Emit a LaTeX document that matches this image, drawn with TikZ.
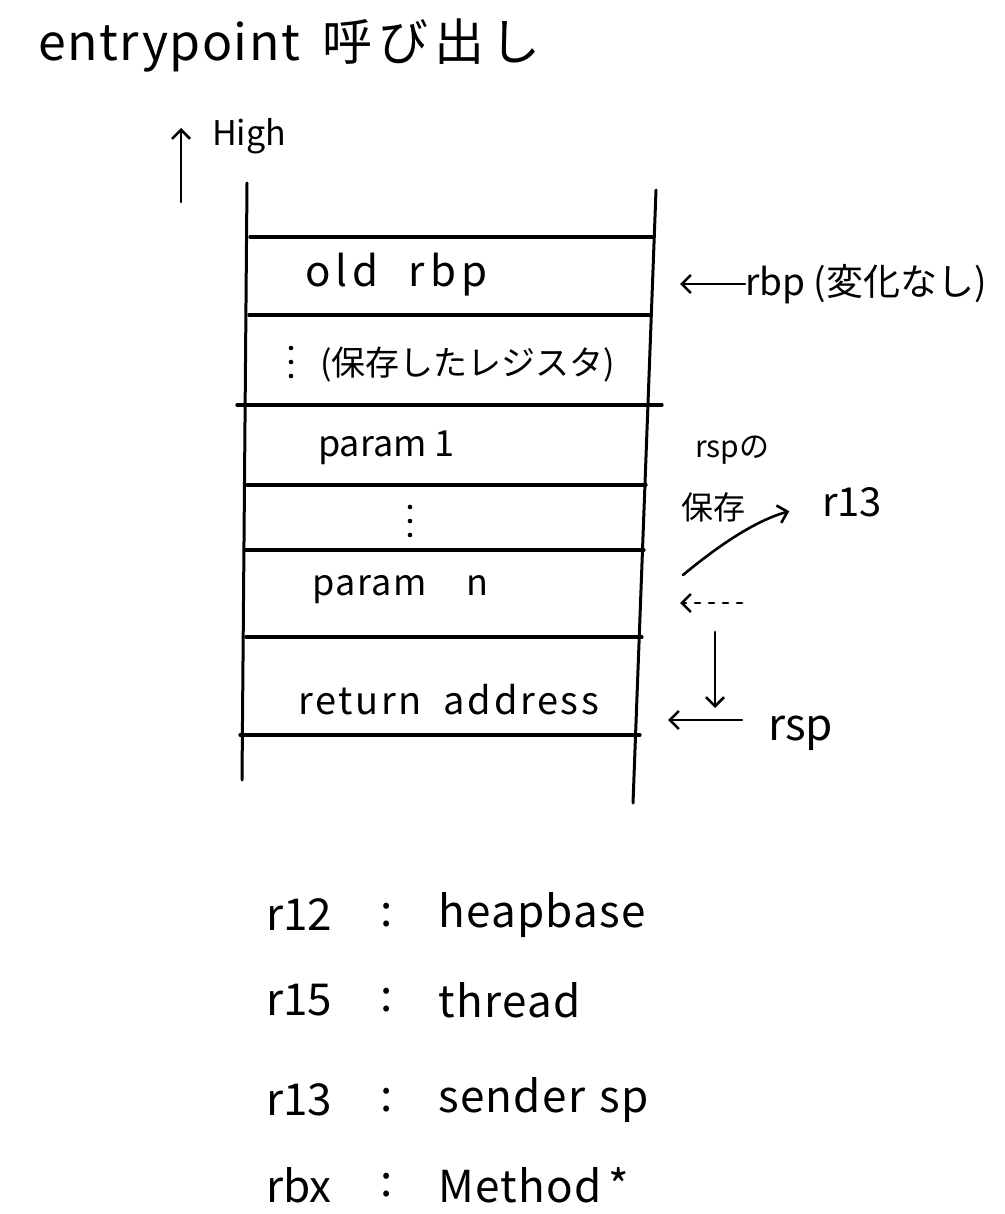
\documentclass[tikz,border=0pt]{standalone}
\usepackage{fontspec}
\setmainfont{Noto Sans CJK JP}
\usetikzlibrary{arrows.meta,positioning,calc}

\begin{document}
\begin{tikzpicture}[x=1pt,y=-1pt,
  font=\fontsize{34}{38}\selectfont,>={Straight Barb[length=9pt,width=18pt]},
  ink/.style={line width=2.6pt,line cap=round},
  wall/.style={ink,line width=3pt},
  slot/.style={ink,line width=3.2pt},
  dotcol/.style={ink,line width=4.6pt,dash pattern=on 0pt off 14pt},
  lbl/.style={inner sep=0pt,anchor=west},
  big/.style={lbl,font=\fontsize{44}{48}\selectfont},
  small/.style={lbl,font=\fontsize{30}{34}\selectfont}]
\useasboundingbox (0,0) rectangle (1004,1214);

% title and direction
\node[big,font=\fontsize{50}{54}\selectfont\addfontfeatures{LetterSpace=3}] (title) at (38,45) {entrypoint\hspace{22pt}呼\hspace{6pt}び\hspace{6pt}出\hspace{6pt}し};
\node[small,font=\fontsize{34}{38}\selectfont] (high) at (212,136) {High};
\coordinate (hbot) at (181,202);
\coordinate (htop) at (181,128);
\draw[ink,->] (hbot) -- (htop);

% stack walls
\coordinate (lt) at (247,183); \coordinate (lb) at (242,780);
\coordinate (rt) at (656,190); \coordinate (rb) at (633,803);
\draw[wall] (lt) -- (lb);
\draw[wall] (rt) -- (rb);
\foreach \y/\xl/\xr in {237/250/654, 315/249/651, 405/237/662, 485/247/646, 550/245/644, 637/246/642, 735/240/640}
  \draw[slot] (\xl,\y) -- (\xr,\y);

% slots
\node[lbl,font=\fontsize{42}{46}\selectfont\addfontfeatures{LetterSpace=12}] (oldrbp) at (305,275) {old\hspace{30pt}rbp};
\coordinate (dotsAtop) at (291,348); \coordinate (dotsAbot) at (291,377);
\draw[dotcol] (dotsAtop) -- (dotsAbot);
\node[lbl] (saved) at (320,365) {(保存したレジスタ)};
\node[lbl,font=\fontsize{36}{40}\selectfont] (param1) at (318,448) {param 1};
\coordinate (dotsBtop) at (410,507); \coordinate (dotsBbot) at (410,536);
\draw[dotcol] (dotsBtop) -- (dotsBbot);
\node[lbl,font=\fontsize{36}{40}\selectfont\addfontfeatures{LetterSpace=4}] (paramn) at (312,590) {param\hspace{40pt}n};
\node[lbl,font=\fontsize{38}{42}\selectfont\addfontfeatures{LetterSpace=7}] (retaddr) at (298,700) {return\hspace{22pt}address};

% right side
\node[lbl,font=\fontsize{37}{41}\selectfont] (rbp) at (745,284) {rbp (変化なし)};
\coordinate (rbptip) at (680,284);
\draw[ink,->] (rbp.west) -- (rbptip);

\node[small] (rspno) at (695,450) {rspの};
\node[small,font=\fontsize{32}{36}\selectfont] (hozon) at (681,507) {保存};
\node[lbl,font=\fontsize{40}{44}\selectfont] (r13) at (822,502) {r13};
\coordinate (keep) at (683,575);
\draw[ink,->,shorten >=34pt] (keep) to[bend left=12] (r13.west);

\coordinate (dtail) at (742,603);
\coordinate (dtip) at (680,603);
\draw[ink,dash pattern=on 5pt off 9pt,-{Straight Barb[length=9pt,width=18pt]}] (dtail) -- (dtip);

\node[lbl,font=\fontsize{44}{48}\selectfont] (rsp) at (768,733) {rsp};
\coordinate (mtop) at (715,632);
\coordinate (mbot) at (715,708);
\draw[ink,->] (mtop) -- (mbot);
\coordinate (rsptail) at (742,720);
\coordinate (rsptip) at (668,720);
\draw[ink,->] (rsptail) -- (rsptip);

% registers
\foreach \reg/\val/\y [count=\i] in {r12/heapbase/915, r15/thread/1000, r13/sender\hspace{14pt}sp/1100, rbx/Method\,*/1185} {
  \node[big] (reg\i) at (266,\y) {\reg};
  \node[big] (col\i) at (380,\y) {:};
  \node[big,font=\fontsize{44}{48}\selectfont\addfontfeatures{LetterSpace=3}] (val\i) at (438,\y) {\val};
}
\end{tikzpicture}
\end{document}
